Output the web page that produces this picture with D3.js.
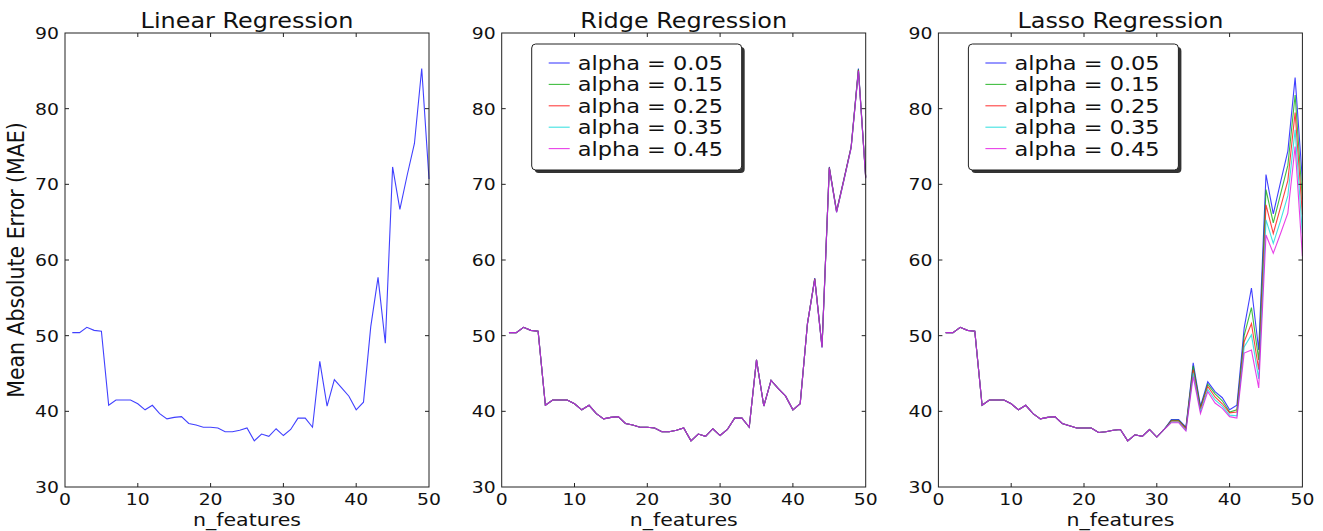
<!DOCTYPE html>
<html>
<head>
<meta charset="utf-8">
<script src="https://cdn.jsdelivr.net/npm/d3@7"></script>
<style>
  body { margin: 0; background: #fff; }
  text { font-family: "DejaVu Sans", sans-serif; fill: #111; }
</style>
</head>
<body>
<svg id="chart"></svg>
<script>
const size = { w: 1323, h: 531 };
const panel = { t: 33, b: 487, w: 364, left0: 65, step: 436.7 };
const stretch = 1.14; // the picture is a bit wider than its fonts

// DATA
const nFeatures = d3.range(1, 51);
const xTicks = [0, 10, 20, 30, 40, 50];
const yTicks = [30, 40, 50, 60, 70, 80, 90];
const titles = ['Linear Regression', 'Ridge Regression', 'Lasso Regression'];
const alphas = ['0.05', '0.15', '0.25', '0.35', '0.45'];
const alphaColors = ['#0000ff', '#00a800', '#ff0000', '#00d8d8', '#e000e0'];

const linearMAE = [50.4, 50.4, 51.1, 50.7, 50.6, 40.8, 41.5, 41.5, 41.5, 41.0,
  40.2, 40.8, 39.7, 39.0, 39.2, 39.3, 38.4, 38.2, 37.9, 37.9,
  37.8, 37.3, 37.3, 37.5, 37.8, 36.1, 37.0, 36.7, 37.7, 36.8,
  37.6, 39.1, 39.1, 37.9, 46.6, 40.7, 44.2, 43.1, 42.0, 40.2,
  41.2, 51.2, 57.7, 49.0, 72.3, 66.7, 71.2, 75.4, 85.3, 70.7];

// ridge: n_features 1..42 are the same for every alpha
const ridgeHead = [50.4, 50.4, 51.1, 50.7, 50.6, 40.8, 41.5, 41.5, 41.5, 41.0,
  40.2, 40.8, 39.7, 39.0, 39.2, 39.3, 38.4, 38.2, 37.9, 37.9,
  37.8, 37.3, 37.3, 37.5, 37.8, 36.1, 37.0, 36.7, 37.7, 36.8,
  37.6, 39.1, 39.1, 37.9, 46.8, 40.7, 44.1, 43.0, 42.0, 40.2,
  41.0, 51.6];
const ridgeTails = [
  [57.6, 48.6, 72.3, 66.5, 70.7, 75.0, 85.3, 71.0],
  [57.5, 48.5, 72.2, 66.4, 70.6, 74.9, 85.2, 70.9],
  [57.5, 48.5, 72.2, 66.4, 70.6, 74.9, 85.1, 70.9],
  [57.4, 48.4, 72.1, 66.3, 70.5, 74.8, 85.0, 70.8],
  [57.4, 48.4, 72.1, 66.3, 70.5, 74.8, 85.0, 70.8]
];

// lasso: n_features 1..31 are the same for every alpha
const lassoHead = [50.4, 50.4, 51.1, 50.7, 50.6, 40.8, 41.5, 41.5, 41.5, 41.0,
  40.2, 40.8, 39.7, 39.0, 39.2, 39.3, 38.4, 38.1, 37.8, 37.8,
  37.8, 37.2, 37.3, 37.5, 37.6, 36.1, 36.9, 36.7, 37.6, 36.6,
  37.6];
const lassoTails = [
  [38.9, 38.9, 37.9, 46.4, 40.7, 43.9, 42.6, 41.8, 40.2, 40.8, 51.0, 56.3, 48.1, 71.3, 66.1, 70.3, 74.4, 84.1, 70.5],
  [38.8, 38.8, 37.8, 46.0, 40.5, 43.6, 42.3, 41.4, 39.9, 40.2, 50.0, 53.7, 46.8, 69.3, 64.9, 68.7, 72.5, 81.8, 68.0],
  [38.7, 38.7, 37.7, 45.5, 40.3, 43.3, 41.9, 41.0, 39.8, 39.9, 49.2, 51.6, 45.5, 67.3, 63.5, 67.0, 70.5, 79.5, 66.0],
  [38.6, 38.6, 37.5, 45.1, 40.0, 42.9, 41.5, 40.7, 39.5, 39.4, 48.5, 50.1, 44.3, 65.3, 62.2, 65.2, 68.5, 77.2, 63.5],
  [38.5, 38.5, 37.4, 44.6, 39.7, 42.6, 41.1, 40.4, 39.3, 39.1, 47.7, 48.1, 43.1, 63.3, 60.9, 63.5, 66.2, 75.0, 60.5]
];

const panels = [
  { series: [{ values: linearMAE, color: '#0000ff' }], legend: false },
  { series: ridgeTails.map((t, i) => ({ values: ridgeHead.concat(t), color: alphaColors[i] })), legend: true },
  { series: lassoTails.map((t, i) => ({ values: lassoHead.concat(t), color: alphaColors[i] })), legend: true }
];

const svg = d3.select('svg#chart')
  .attr('width', size.w)
  .attr('height', size.h);

// text helper: place at (x,y) and widen horizontally
function putText(g, x, y, str, fs, anchor) {
  return g.append('text')
    .attr('transform', `translate(${x},${y}) scale(${stretch},1)`)
    .attr('text-anchor', anchor || 'middle')
    .style('font-size', fs + 'px')
    .text(str);
}

const y = d3.scaleLinear().domain([30, 90]).range([panel.b, panel.t]);

panels.forEach((p, pi) => {
  const left = panel.left0 + pi * panel.step;
  const x = d3.scaleLinear().domain([0, 50]).range([left, left + panel.w]);
  const g = svg.append('g');

  // lines
  const line = d3.line()
    .x((d, i) => x(nFeatures[i]))
    .y(d => y(d));
  p.series.forEach(s => {
    g.append('path')
      .datum(s.values)
      .attr('d', line)
      .attr('fill', 'none')
      .attr('stroke', s.color)
      .attr('stroke-width', 1.1)
      .attr('stroke-opacity', 0.75);
  });

  // frame
  g.append('rect')
    .attr('x', x(0)).attr('y', y(90))
    .attr('width', x(50) - x(0)).attr('height', y(30) - y(90))
    .attr('fill', 'none').attr('stroke', '#222').attr('stroke-width', 1);

  // inward ticks on all four sides
  const tl = 4;
  xTicks.slice(1, -1).forEach(v => {
    g.append('line').attr('x1', x(v)).attr('x2', x(v)).attr('y1', y(30)).attr('y2', y(30) - tl).attr('stroke', '#222');
    g.append('line').attr('x1', x(v)).attr('x2', x(v)).attr('y1', y(90)).attr('y2', y(90) + tl).attr('stroke', '#222');
  });
  yTicks.slice(1, -1).forEach(v => {
    g.append('line').attr('x1', x(0)).attr('x2', x(0) + tl).attr('y1', y(v)).attr('y2', y(v)).attr('stroke', '#222');
    g.append('line').attr('x1', x(50)).attr('x2', x(50) - tl).attr('y1', y(v)).attr('y2', y(v)).attr('stroke', '#222');
  });

  // tick labels
  xTicks.forEach(v => putText(g, x(v), panel.b + 18, v, 16.5));
  yTicks.forEach(v => putText(g, x(0) - 6, y(v) + 6, v, 16.5, 'end'));

  putText(g, (x(0) + x(50)) / 2, 28, titles[pi], 21);
  putText(g, (x(0) + x(50)) / 2, 526, 'n_features', 18);

  // legend
  if (p.legend) {
    const lx = left + 30, ly = 44, lw = 210, lh = 126;
    g.append('rect').attr('x', lx + 3).attr('y', ly + 3).attr('width', lw).attr('height', lh)
      .attr('rx', 4).attr('fill', '#333');
    g.append('rect').attr('x', lx).attr('y', ly).attr('width', lw).attr('height', lh)
      .attr('rx', 4).attr('fill', '#fff').attr('stroke', '#222').attr('stroke-width', 1);
    alphas.forEach((a, i) => {
      const ry = ly + 19 + i * 21.4;
      g.append('line').attr('x1', lx + 17).attr('x2', lx + 38).attr('y1', ry).attr('y2', ry)
        .attr('stroke', alphaColors[i]).attr('stroke-width', 1.1).attr('stroke-opacity', 0.75);
      putText(g, lx + 46, ry + 7, 'alpha = ' + a, 19.7, 'start');
    });
  }
});

// y axis label
svg.append('text')
  .attr('transform', `translate(24,${(panel.t + panel.b) / 2}) scale(${stretch},1) rotate(-90)`)
  .attr('text-anchor', 'middle')
  .style('font-size', '20.5px')
  .text('Mean Absolute Error (MAE)');
</script>
</body>
</html>
